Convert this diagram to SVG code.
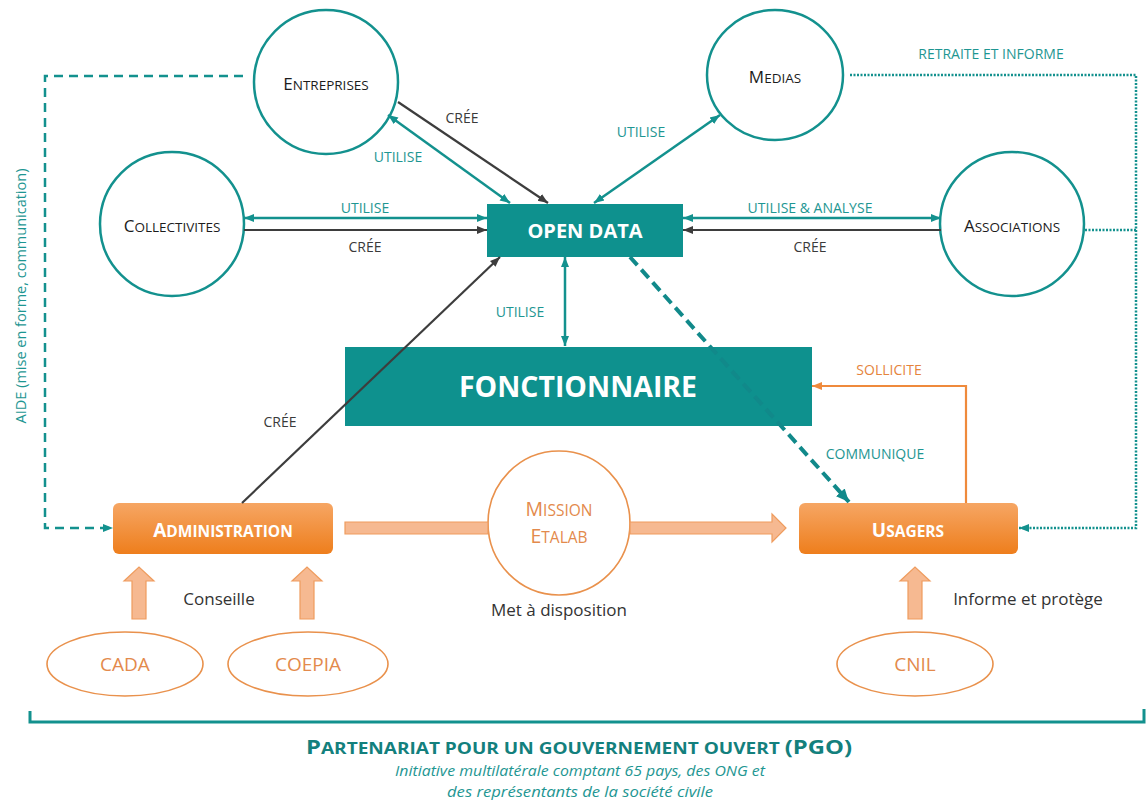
<svg xmlns="http://www.w3.org/2000/svg" width="1146" height="800" viewBox="0 0 1146 800">
<defs>
<linearGradient id="og" x1="0" y1="0" x2="0" y2="1"><stop offset="0" stop-color="#f6a664"/><stop offset="1" stop-color="#ee7e1c"/></linearGradient>
<marker id="at" viewBox="0 0 10 10" refX="10" refY="5" markerWidth="10" markerHeight="10" markerUnits="userSpaceOnUse" orient="auto-start-reverse"><path d="M0,1 L10,5 L0,9 z" fill="#13918e"/></marker>
<marker id="atb" viewBox="0 0 10 10" refX="10" refY="5" markerWidth="13" markerHeight="13" markerUnits="userSpaceOnUse" orient="auto-start-reverse"><path d="M0,0.5 L10,5 L0,9.5 z" fill="#11898a"/></marker>
<marker id="ad" viewBox="0 0 10 10" refX="10" refY="5" markerWidth="10" markerHeight="10" markerUnits="userSpaceOnUse" orient="auto-start-reverse"><path d="M0,1 L10,5 L0,9 z" fill="#3d3d3d"/></marker>
<marker id="ao" viewBox="0 0 10 10" refX="10" refY="5" markerWidth="10" markerHeight="10" markerUnits="userSpaceOnUse" orient="auto-start-reverse"><path d="M0,1 L10,5 L0,9 z" fill="#ef8a3c"/></marker>
</defs>
<style>
text{font-family:"Open Sans","Liberation Sans",sans-serif}
.circ{fill:#fff;stroke:#13918e;stroke-width:2.5}
.nt{font-size:13.5px;fill:#1c1c1c;text-anchor:middle}
.nb{font-size:17px}
.lt{font-size:14px;fill:#1e9692;text-anchor:middle}
.ld{font-size:14px;fill:#3a3a3a;text-anchor:middle}
.lo{font-size:14px;fill:#e5843c;text-anchor:middle}
.tl{stroke:#13918e;stroke-width:2.5;fill:none}
.dl{stroke:#3d3d3d;stroke-width:2.2;fill:none}
.ol{stroke:#ef8a3c;stroke-width:2.2;fill:none}
.box{fill:#0e918e}
.obox{fill:url(#og)}
.wt{fill:#fff;font-weight:bold;text-anchor:middle}
.blk{fill:#f6b991;stroke:#ef9c5e;stroke-width:1.2}
.oel{fill:#fff;stroke:#e9914c;stroke-width:1.6}
.ot{fill:#e38a4c;text-anchor:middle}
.gt{font-size:17px;fill:#333;text-anchor:middle}
</style>

<g id="entreprises">
<circle class="circ" cx="326" cy="82" r="72"/>
<text class="nt" x="326" y="90"><tspan class="nb">E</tspan>NTREPRISES</text>
</g>
<g id="collectivites">
<circle class="circ" cx="172" cy="224" r="72"/>
<text class="nt" x="172" y="232"><tspan class="nb">C</tspan>OLLECTIVITES</text>
</g>
<g id="medias">
<ellipse class="circ" cx="775" cy="75" rx="68" ry="65"/>
<text class="nt" x="775" y="83"><tspan class="nb">M</tspan>EDIAS</text>
</g>
<g id="associations">
<circle class="circ" cx="1012" cy="224" r="72"/>
<text class="nt" x="1012" y="232"><tspan class="nb">A</tspan>SSOCIATIONS</text>
</g>
<g id="open-data">
<rect class="box" x="487" y="204" width="196" height="53"/>
<text class="wt" x="585" y="238" font-size="20">OPEN DATA</text>
</g>
<g id="fonctionnaire">
<rect class="box" x="345" y="347" width="467" height="79"/>
<text class="wt" x="578" y="397" font-size="28" textLength="238" lengthAdjust="spacingAndGlyphs">FONCTIONNAIRE</text>
</g>
<g id="administration">
<rect class="obox" x="113" y="503" width="220" height="51" rx="6"/>
<text class="wt" x="223" y="537" font-size="15.5"><tspan font-size="19">A</tspan>DMINISTRATION</text>
</g>
<g id="usagers">
<rect class="obox" x="799" y="503" width="219" height="51" rx="6"/>
<text class="wt" x="908" y="537" font-size="15.5"><tspan font-size="19">U</tspan>SAGERS</text>
</g>
<g id="mission-etalab">
<ellipse class="oel" cx="559" cy="523" rx="71" ry="72"/>
<text class="ot" x="559" y="516" font-size="15.5"><tspan font-size="19.5">M</tspan>ISSION</text>
<text class="ot" x="559" y="543" font-size="15.5"><tspan font-size="19.5">E</tspan>TALAB</text>
</g>
<g id="cada">
<ellipse class="oel" cx="125" cy="664" rx="78" ry="32"/>
<text class="ot" x="125" y="671" font-size="19">CADA</text>
</g>
<g id="coepia">
<ellipse class="oel" cx="308" cy="664" rx="80" ry="32"/>
<text class="ot" x="308" y="671" font-size="19">COEPIA</text>
</g>
<g id="cnil">
<ellipse class="oel" cx="915" cy="664" rx="78" ry="32"/>
<text class="ot" x="915" y="671" font-size="19">CNIL</text>
</g>
<g id="pgo">
<polyline points="30,711 30,722 1144,722 1144,709" fill="none" stroke="#13918e" stroke-width="3"/>
<text x="579" y="754" text-anchor="middle" font-weight="bold" font-size="16" fill="#13807d" textLength="546" lengthAdjust="spacingAndGlyphs"><tspan font-size="20">P</tspan>ARTENARIAT POUR UN GOUVERNEMENT OUVERT <tspan font-size="20">(PGO)</tspan></text>
<text x="580" y="776" text-anchor="middle" font-style="italic" font-size="15" fill="#1e9692" textLength="370" lengthAdjust="spacingAndGlyphs">Initiative multilatérale comptant 65 pays, des ONG et</text>
<text x="580" y="797" text-anchor="middle" font-style="italic" font-size="15" fill="#1e9692" textLength="266" lengthAdjust="spacingAndGlyphs">des représentants de la société civile</text>
</g>

<g id="connectors">
<line class="tl" x1="388" y1="115" x2="510" y2="203" marker-start="url(#at)" marker-end="url(#at)"/>
<line class="dl" x1="398" y1="102" x2="548" y2="203" marker-end="url(#ad)"/>
<line class="tl" x1="720" y1="115" x2="594" y2="203" marker-start="url(#at)" marker-end="url(#at)"/>
<line class="tl" x1="244" y1="218" x2="487" y2="218" marker-start="url(#at)" marker-end="url(#at)"/>
<line class="dl" x1="244" y1="230" x2="487" y2="230" marker-end="url(#ad)"/>
<line class="tl" x1="683" y1="218" x2="941" y2="218" marker-start="url(#at)" marker-end="url(#at)"/>
<line class="dl" x1="941" y1="230" x2="683" y2="230" marker-end="url(#ad)"/>
<line class="tl" x1="565" y1="257" x2="565" y2="346" marker-start="url(#at)" marker-end="url(#at)"/>
<line class="dl" x1="242" y1="503" x2="500" y2="257" marker-end="url(#ad)"/>
<line class="tl" x1="630" y1="257" x2="849" y2="502" style="stroke:#11898a;stroke-width:4;stroke-dasharray:11 6" marker-end="url(#atb)"/>
<polyline class="ol" points="966,503 966,386 812,386" marker-end="url(#ao)"/>
<polyline class="tl" points="243,76 45,76 45,528 113,528" style="stroke-dasharray:9 6" marker-end="url(#at)"/>
<polyline class="tl" points="850,75 1136,75 1136,528 1019,528" style="stroke-dasharray:2 1.5" marker-end="url(#at)"/>
<line class="tl" x1="1085" y1="230" x2="1136" y2="230" style="stroke-dasharray:2 1.5"/>
<polygon class="blk" points="345,522 488,522 488,534 345,534"/>
<polygon class="blk" points="630,522 772,522 772,514 786,528 772,542 772,534 630,534"/>
<polygon class="blk" points="132,619 132,581 124,581 139,567 154,581 146,581 146,619"/>
<polygon class="blk" points="300,619 300,581 292,581 307,567 322,581 314,581 314,619"/>
<polygon class="blk" points="908,619 908,581 900,581 915,567 930,581 922,581 922,619"/>
<text class="lt" x="398" y="162">UTILISE</text>
<text class="ld" x="462" y="123">CRÉE</text>
<text class="lt" x="641" y="137">UTILISE</text>
<text class="lt" x="365" y="213">UTILISE</text>
<text class="ld" x="365" y="252">CRÉE</text>
<text class="lt" x="810" y="213">UTILISE &amp; ANALYSE</text>
<text class="ld" x="810" y="252">CRÉE</text>
<text class="lt" x="520" y="317">UTILISE</text>
<text class="ld" x="280" y="427">CRÉE</text>
<text class="lt" x="875" y="459">COMMUNIQUE</text>
<text class="lo" x="889" y="375">SOLLICITE</text>
<text class="lt" x="991" y="59">RETRAITE ET INFORME</text>
<text class="lt" style="font-size:14.5px" transform="translate(26,296) rotate(-90)">AIDE (mise en forme, communication)</text>
<text class="gt" x="219" y="605">Conseille</text>
<text class="gt" x="559" y="616">Met à disposition</text>
<text class="gt" x="1028" y="605">Informe et protège</text>
</g>
</svg>
